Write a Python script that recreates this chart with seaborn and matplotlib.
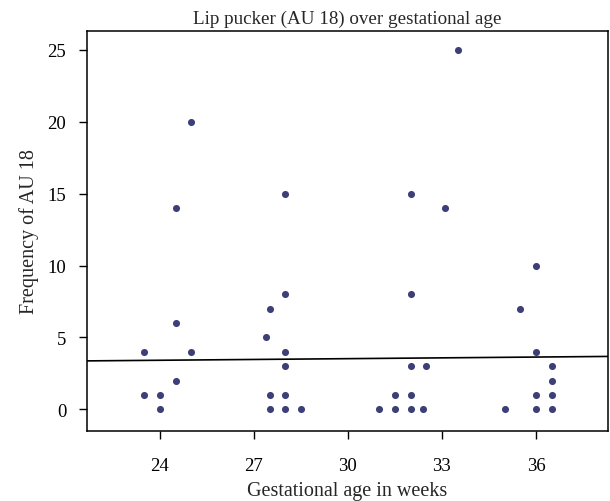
import seaborn as sns
import pandas as pd
import matplotlib.pyplot as plt

# gestational age (weeks) and AU 18 frequency
age_24 = [23.5, 23.5, 24, 24, 24.5, 24.5, 24.5, 25, 25]
au_24 = [4, 1, 1, 0, 14, 6, 2, 20, 4]
age_28 = [27.4, 27.5, 27.5, 27.5, 28, 28, 28, 28, 28, 28, 28.5]
au_28 = [5, 7, 1, 0, 15, 8, 4, 3, 1, 0, 0]
age_32 = [31, 31.5, 31.5, 32, 32, 32, 32, 32, 32.4, 32.5, 33.1, 33.5]
au_32 = [0, 1, 0, 15, 8, 3, 1, 0, 0, 3, 14, 25]
age_36 = [35, 35.5, 36, 36, 36, 36, 36.5, 36.5, 36.5, 36.5]
au_36 = [0, 7, 10, 4, 1, 0, 3, 2, 1, 0]

# fit line as drawn in the source (many overlapping points are hidden there)
fit_intercept = 2.97
fit_slope = 0.0186

xticks = [24, 27, 30, 33, 36]
yticks = [0, 5, 10, 15, 20, 25]

df = pd.DataFrame({
    "age": age_24 + age_28 + age_32 + age_36,
    "au": au_24 + au_28 + au_32 + au_36,
})

sns.set_style("ticks")
plt.rcParams['font.family'] = ['Liberation Serif', 'DejaVu Serif']

fig = plt.figure(figsize=(6.1, 5.02), dpi=100)
ax = fig.add_axes([0.1426, 0.1394, 0.854, 0.797])
ax.set_xlim(21.67, 38.3)
ax.set_ylim(-1.5, 26.3)

sns.regplot(x="age", y="au", data=df, ax=ax, fit_reg=False,
            scatter_kws={"s": 26, "color": "#3c3f78", "linewidths": 0, "alpha": 1})
ax.axline((0, fit_intercept), slope=fit_slope, color="black", linewidth=1.2)

ax.set_xticks(xticks)
ax.set_yticks(yticks)
ax.tick_params(axis="both", direction="out", length=6, width=1, labelsize=13.5,
               colors="black")
ax.tick_params(axis="x", pad=13)
ax.tick_params(axis="y", pad=9)
for s in ax.spines.values():
    s.set_visible(True)
    s.set_linewidth(1.1)
    s.set_color("black")

ax.set_xlabel("Gestational age in weeks", fontsize=14.5, labelpad=5)
ax.set_ylabel("Frequency of AU 18", fontsize=14.5, labelpad=6)
ax.set_title("Lip pucker (AU 18) over gestational age", fontsize=13.7, pad=6)

plt.savefig("out.png", dpi=100)
